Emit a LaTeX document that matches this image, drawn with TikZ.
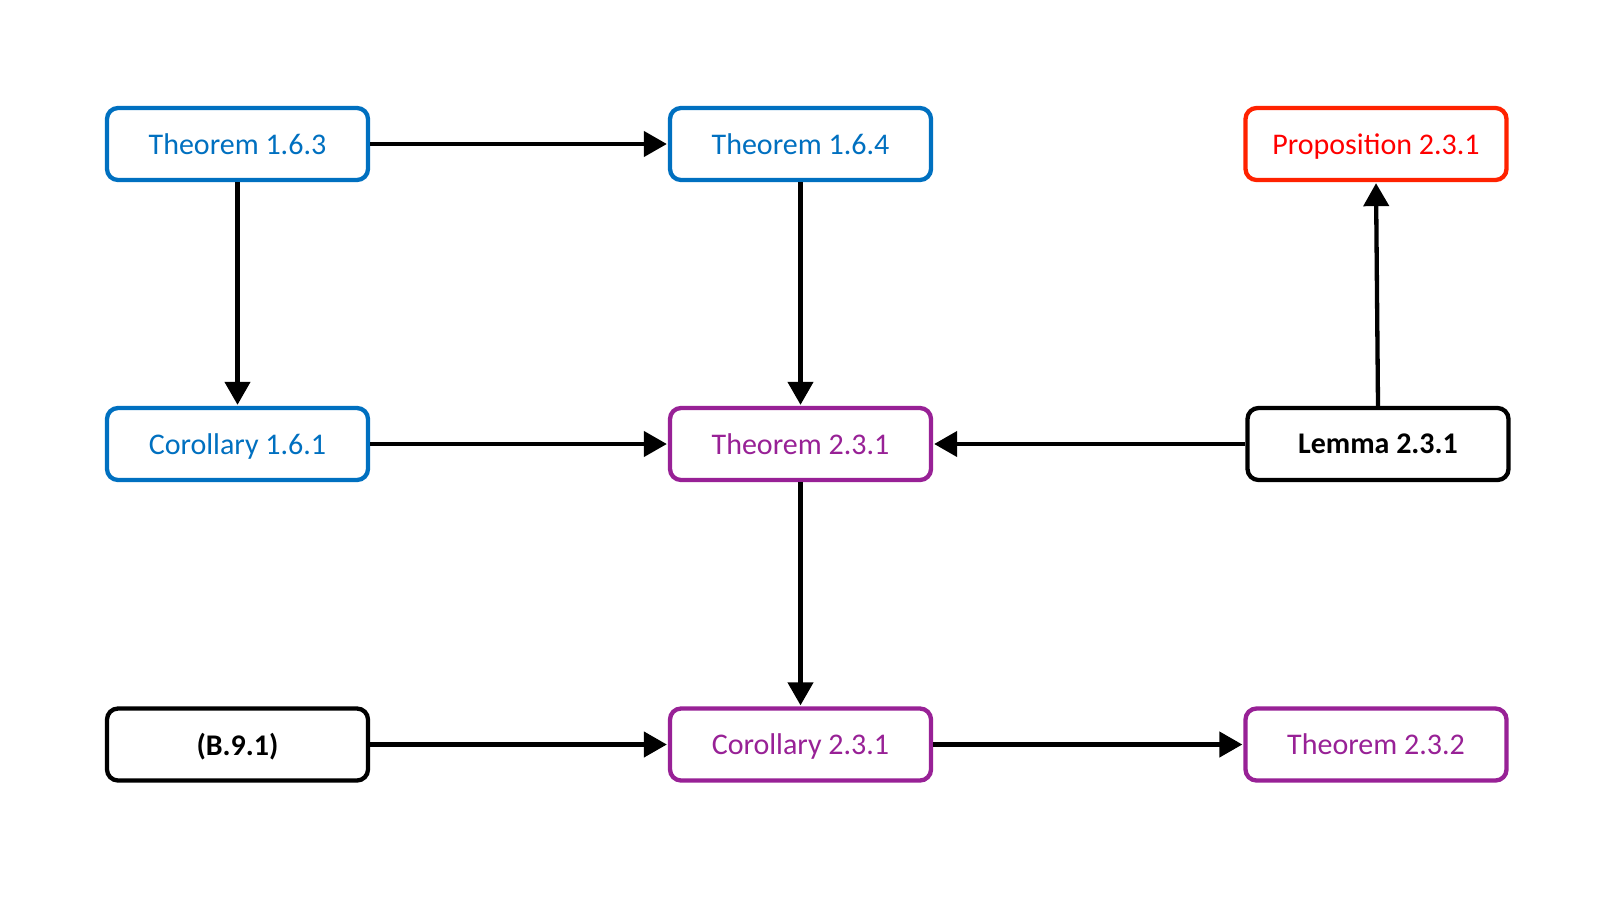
\documentclass[tikz,border=0pt]{standalone}
\usepackage{fontspec}
\setmainfont{Carlito}
\usetikzlibrary{arrows.meta}
\definecolor{cblue}{HTML}{0070C0}
\definecolor{cpurple}{HTML}{982196}
\definecolor{cred}{HTML}{FF2200}
\definecolor{credtext}{HTML}{FF0000}
\begin{document}
\begin{tikzpicture}[x=1pt,y=-1pt,
  box/.style={draw, line width=4.3pt, rounded corners=11pt, minimum width=261pt, minimum height=72pt, inner sep=0pt, fill=white, text depth=0pt, font=\fontsize{30}{36}\selectfont},
  bluebox/.style={box, draw=cblue, text=cblue},
  purplebox/.style={box, draw=cpurple, text=cpurple},
  redbox/.style={box, draw=cred, text=credtext},
  blackbox/.style={box, draw=black, text=black, font=\fontsize{30}{36}\selectfont\bfseries},
  conn/.style={line width=4.3pt, -{Triangle[width=25pt,length=23pt]}, shorten >=1pt}]
\fill[white] (0,0) rectangle (1600,900);
\useasboundingbox (0,0) rectangle (1600,900);
\node[bluebox] (t163) at (237.5,144) {Theorem 1.6.3};
\node[bluebox] (t164) at (800.5,144) {Theorem 1.6.4};
\node[redbox] (p231) at (1376,144) {Proposition 2.3.1};
\node[bluebox] (c161) at (237.5,444) {Corollary 1.6.1};
\node[purplebox] (t231) at (800.5,444) {Theorem 2.3.1};
\node[blackbox] (l231) at (1378,444) {Lemma 2.3.1};
\node[blackbox] (b91) at (237.5,744.5) {(B.9.1)};
\node[purplebox] (c231) at (800.5,744.5) {Corollary 2.3.1};
\node[purplebox] (t232) at (1376,744.5) {Theorem 2.3.2};
\draw[conn] (t163) -- (t164);
\draw[conn] (t163) -- (c161);
\draw[conn] (t164) -- (t231);
\draw[conn] (c161) -- (t231);
\draw[conn] (l231) -- (t231);
\draw[conn] (l231.north) -- (p231.south);
\draw[conn] (t231) -- (c231);
\draw[conn] (b91) -- (c231);
\draw[conn] (c231) -- (t232);
\end{tikzpicture}
\end{document}
